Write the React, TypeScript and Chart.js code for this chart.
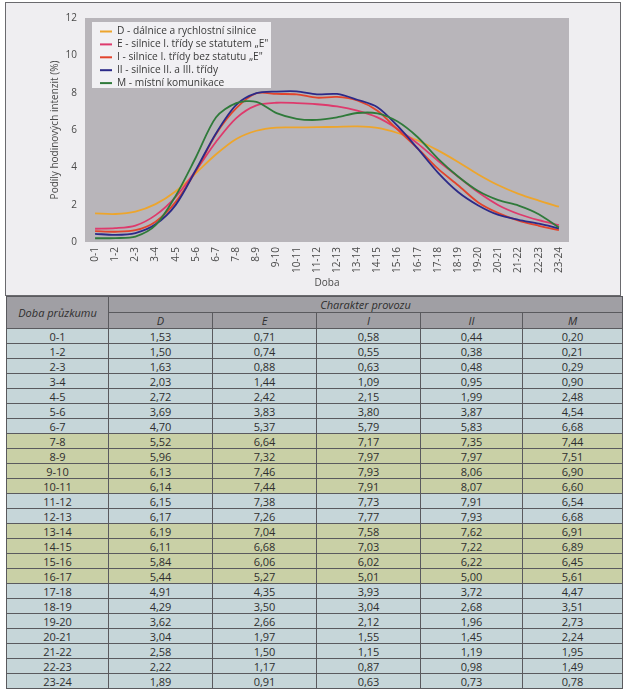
import React, { useEffect, useRef } from "react";
import { Chart, registerables } from "chart.js";
Chart.register(...registerables);

const categories = ["0-1","1-2","2-3","3-4","4-5","5-6","6-7","7-8","8-9","9-10","10-11","11-12","12-13","13-14","14-15","15-16","16-17","17-18","18-19","19-20","20-21","21-22","22-23","23-24"];
const seriesD = [1.53,1.50,1.63,2.03,2.72,3.69,4.70,5.52,5.96,6.13,6.14,6.15,6.17,6.19,6.11,5.84,5.44,4.91,4.29,3.62,3.04,2.58,2.22,1.89];
const seriesE = [0.71,0.74,0.88,1.44,2.42,3.83,5.37,6.64,7.32,7.46,7.44,7.38,7.26,7.04,6.68,6.06,5.27,4.35,3.50,2.66,1.97,1.50,1.17,0.91];
const seriesI = [0.58,0.55,0.63,1.09,2.15,3.80,5.79,7.17,7.97,7.93,7.91,7.73,7.77,7.58,7.03,6.02,5.01,3.93,3.04,2.12,1.55,1.15,0.87,0.63];
const seriesII = [0.44,0.38,0.48,0.95,1.99,3.87,5.83,7.35,7.97,8.06,8.07,7.91,7.93,7.62,7.22,6.22,5.00,3.72,2.68,1.96,1.45,1.19,0.98,0.73];
const seriesM = [0.20,0.21,0.29,0.90,2.48,4.54,6.68,7.44,7.51,6.90,6.60,6.54,6.68,6.91,6.89,6.45,5.61,4.47,3.51,2.73,2.24,1.95,1.49,0.78];
const seriesCodes = ["D","E","I","II","M"];
const seriesNames = [
  "D - dálnice a rychlostní silnice",
  "E - silnice I. třídy se statutem „E\"",
  "I - silnice I. třídy bez statutu „E\"",
  "II - silnice II. a III. třídy",
  "M - místní komunikace",
];
const seriesColors = ["#eda52c", "#de3a6c", "#e2442c", "#2c2a88", "#2f7a3a"];
const peakRows = ["7-8","8-9","9-10","10-11","13-14","14-15","15-16","16-17"];
const yMin = 0;
const yMax = 12;
const yStep = 2;
const xTitle = "Doba";
const yTitle = "Podíly hodinových intenzit (%)";
const tableTitle = "Doba průzkumu";
const groupTitle = "Charakter provozu";

const allSeries = [seriesD, seriesE, seriesI, seriesII, seriesM];
const FONT = '"Open Sans", "Noto Sans", sans-serif';

const bgPlugin = {
  id: "plotBg",
  beforeDraw(chart: any) {
    const { ctx, chartArea } = chart;
    ctx.save();
    ctx.fillStyle = "#b8b5ba";
    ctx.fillRect(chartArea.left, chartArea.top, chartArea.right - chartArea.left, chartArea.bottom - chartArea.top);
    ctx.restore();
  },
};

const legendPlugin = {
  id: "boxLegend",
  afterDatasetsDraw(chart: any) {
    const { ctx, chartArea } = chart;
    const x0 = chartArea.left + 7;
    const y0 = chartArea.top + 4;
    ctx.save();
    ctx.fillStyle = "#f1f0f3";
    ctx.fillRect(x0, y0, 179, 66);
    ctx.font = `10.2px ${FONT}`;
    ctx.textBaseline = "middle";
    seriesNames.forEach((name, i) => {
      const cy = y0 + 9.5 + i * 12.9;
      ctx.strokeStyle = seriesColors[i];
      ctx.lineWidth = 2;
      ctx.beginPath();
      ctx.moveTo(x0 + 8, cy);
      ctx.lineTo(x0 + 20, cy);
      ctx.stroke();
      ctx.fillStyle = "#3a3a3a";
      ctx.fillText(name, x0 + 25, cy);
    });
    ctx.restore();
  },
};

function ChartPanel() {
  const ref = useRef<HTMLCanvasElement | null>(null);
  useEffect(() => {
    if (!ref.current) return;
    const chart = new Chart(ref.current, {
      type: "line",
      data: {
        labels: categories,
        datasets: allSeries.map((data, i) => ({
          label: seriesNames[i],
          data,
          borderColor: seriesColors[i],
          backgroundColor: seriesColors[i],
          borderWidth: 1.8,
          pointRadius: 0,
          tension: 0.3,
          fill: false,
          order: 4 - i,
        })),
      },
      options: {
        animation: false,
        responsive: false,
        maintainAspectRatio: false,
        layout: { padding: { left: 38, right: 51, top: 15, bottom: 5 } },
        plugins: { legend: { display: false }, tooltip: { enabled: false } },
        scales: {
          x: {
            offset: true,
            grid: { display: false, drawTicks: false },
            border: { display: false },
            ticks: { autoSkip: false, maxRotation: 90, minRotation: 90, padding: 5, color: "#4a4a4a", font: { family: FONT, size: 10 } },
            title: { display: true, text: xTitle, color: "#4a4a4a", font: { family: FONT, size: 10 }, padding: { top: 0, bottom: 1 } },
            afterFit: (s: any) => { s.height = 48; },
          },
          y: {
            min: yMin,
            max: yMax,
            grid: { display: false, drawTicks: false },
            border: { display: false },
            ticks: { stepSize: yStep, padding: 8, color: "#4a4a4a", font: { family: FONT, size: 10 } },
            title: { display: true, text: yTitle, color: "#4a4a4a", font: { family: FONT, size: 10 }, padding: { top: 5, bottom: 0 } },
            afterFit: (s: any) => { s.width = 41; },
          },
        },
      },
      plugins: [bgPlugin, legendPlugin],
    } as any);
    return () => chart.destroy();
  }, []);
  return <canvas ref={ref} width={614} height={292} style={{ display: "block", width: 614, height: 292 }} />;
}

const fmt = (v: number) => v.toFixed(2).replace(".", ",");

export default function App() {
  const colWidths = [102, 104, 104, 104, 102, 100];
  const border = "1px solid #5a5a5e";
  const cellBase: React.CSSProperties = {
    border,
    padding: 0,
    textAlign: "center",
    verticalAlign: "middle",
    fontFamily: FONT,
    fontSize: 11,
    color: "#2e2e2e",
    boxSizing: "border-box",
    lineHeight: "13px",
  };
  const headBg = "#a09fa4";
  return (
    <div style={{ position: "absolute", left: 0, top: 0, width: 626, height: 693, background: "#ffffff", overflow: "hidden" }}>
      <div style={{ position: "absolute", left: 5, top: 2, width: 614, height: 292, border: "1px solid #6a6a6e", background: "#efeef1" }}>
        <ChartPanel />
      </div>
      <table style={{ position: "absolute", left: 6, top: 296, width: 616, borderCollapse: "collapse", tableLayout: "fixed" }}>
        <colgroup>
          {colWidths.map((w, i) => <col key={i} style={{ width: w }} />)}
        </colgroup>
        <thead>
          <tr style={{ height: 16 }}>
            <th rowSpan={2} style={{ ...cellBase, background: headBg, fontWeight: 400, fontStyle: "italic", height: 32 }}>{tableTitle}</th>
            <th colSpan={5} style={{ ...cellBase, background: headBg, fontWeight: 400, fontStyle: "italic", height: 16, borderBottom: border }}>{groupTitle}</th>
          </tr>
          <tr style={{ height: 16 }}>
            {seriesCodes.map((c) => (
              <th key={c} style={{ ...cellBase, background: headBg, fontWeight: 400, fontStyle: "italic", height: 16 }}>{c}</th>
            ))}
          </tr>
        </thead>
        <tbody>
          {categories.map((cat, r) => {
            const bg = peakRows.includes(cat) ? "#c9d0a6" : "#c6d6d9";
            return (
              <tr key={cat} style={{ height: 15 }}>
                <td style={{ ...cellBase, background: bg, height: 15 }}>{cat}</td>
                {allSeries.map((s, i) => (
                  <td key={i} style={{ ...cellBase, background: bg, height: 15 }}>{fmt(s[r])}</td>
                ))}
              </tr>
            );
          })}
        </tbody>
      </table>
    </div>
  );
}
